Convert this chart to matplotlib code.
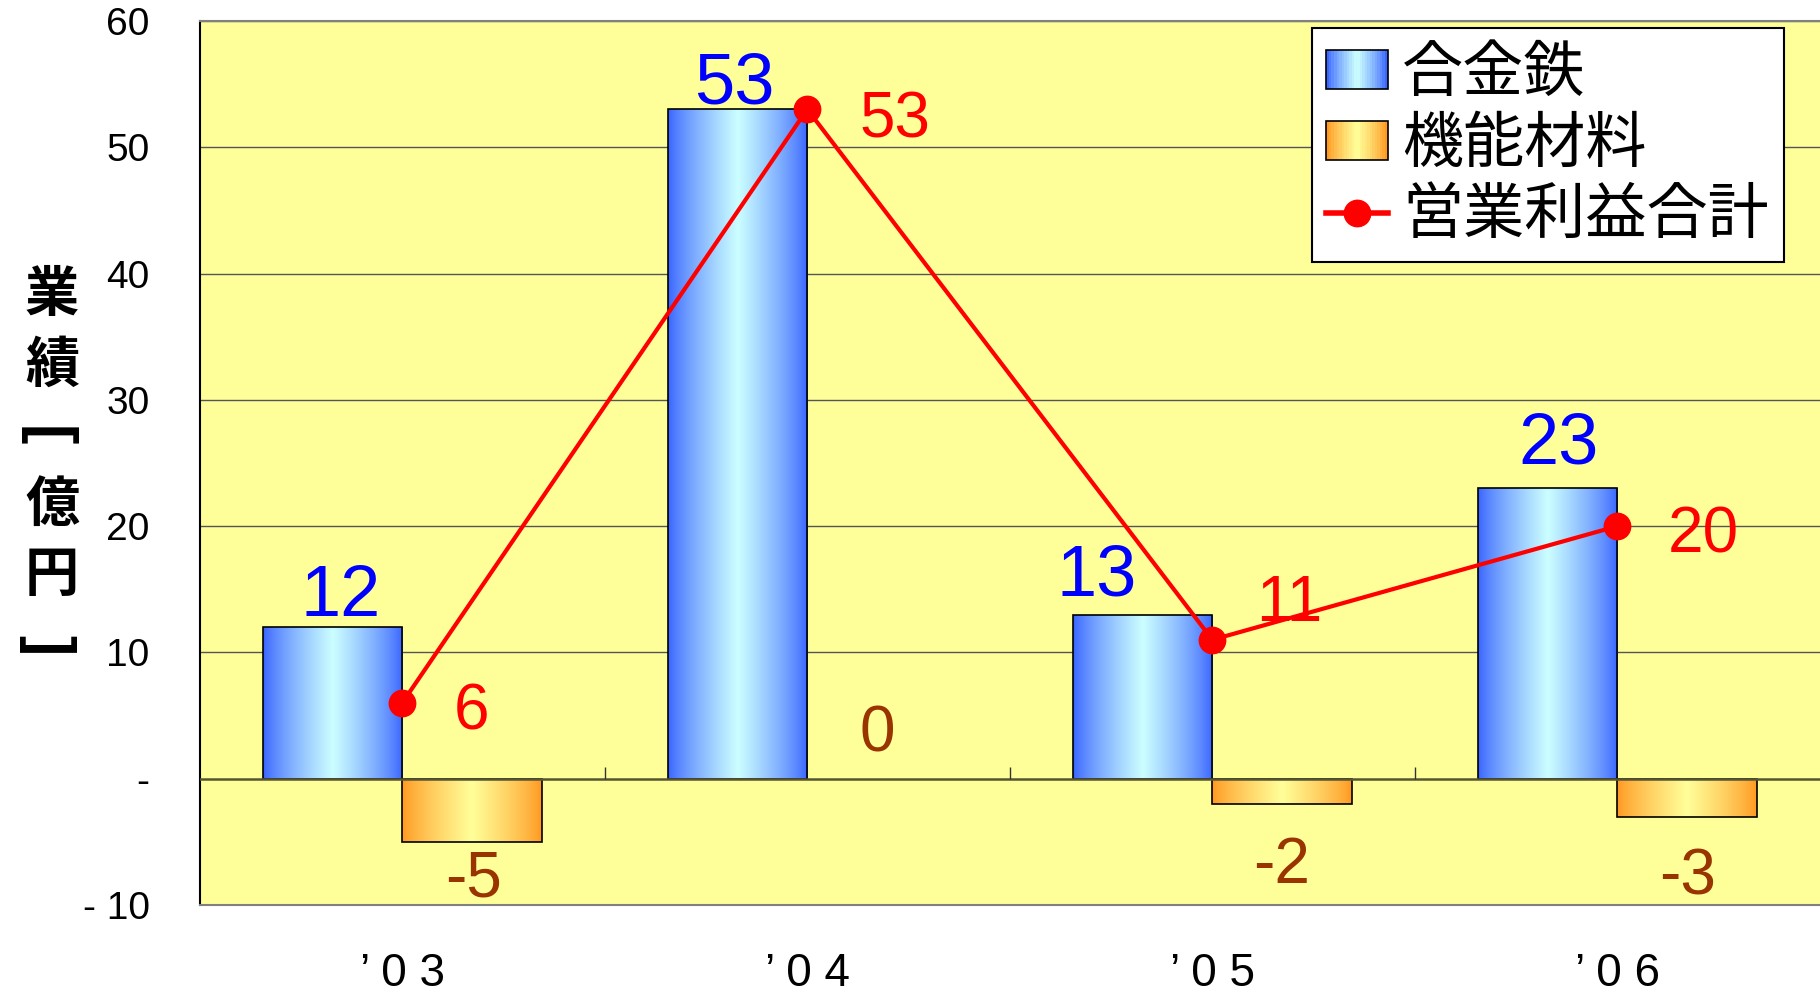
import numpy as np
import matplotlib
matplotlib.use("Agg")
import matplotlib.pyplot as plt
from matplotlib import font_manager as fm
from matplotlib.patches import Rectangle
from matplotlib.lines import Line2D
from matplotlib.legend_handler import HandlerBase

# データ
years = ["’ 0 3", "’ 0 4", "’ 0 5", "’ 0 6"]
alloy = [12, 53, 13, 23]          # 合金鉄
functional = [-5, 0, -2, -3]      # 機能材料
total = [6, 53, 11, 20]           # 営業利益合計
yticks = [-10, 0, 10, 20, 30, 40, 50, 60]
ytick_labels = ["- 10", "-", "10", "20", "30", "40", "50", "60"]
ylabel_chars = ["業", "績", "[", "億", "円", "]"]

# ラベルの微調整 (points)
alloy_off = [(6, 8), (-2, 4), (-33, 14), (8, 18)]
total_off = [(50, -7), (63, -8), (55, 26), (62, -7)]
func_off = [(1, -27), (0, 32), (0, -45), (0, -44)]

JP = ["Noto Sans CJK JP", "DejaVu Sans"]
names = {f.name for f in fm.fontManager.ttflist}
NUM = "Liberation Sans Narrow" if "Liberation Sans Narrow" in names else "Liberation Sans"

BLUE_EDGE, BLUE_MID = np.array([0.23, 0.40, 1.0]), np.array([0.8, 1.0, 1.0])
ORG_EDGE, ORG_MID = np.array([1.0, 0.6, 0.13]), np.array([1.0, 1.0, 0.6])


def grad(edge, mid, n=64):
    t = np.linspace(0, 1, n)
    w = (1 - np.abs(2 * t - 1)) ** 0.8
    return (edge[None, :] + (mid - edge)[None, :] * w[:, None])[None, :, :]


def gradient_bars(ax, x, h, width, edge, mid):
    img = grad(edge, mid)
    for xi, hi in zip(x, h):
        if hi == 0:
            continue
        y0, y1 = min(0, hi), max(0, hi)
        r = Rectangle((xi - width / 2, y0), width, y1 - y0, fc="none",
                      ec="black", lw=1.2, zorder=3)
        ax.add_patch(r)
        im = ax.imshow(img, extent=(xi - width / 2, xi + width / 2, y0, y1),
                       aspect="auto", zorder=2, interpolation="bilinear")
        im.set_clip_path(r)


class GradHandler(HandlerBase):
    def __init__(self, edge, mid):
        super().__init__()
        self.edge, self.mid = edge, mid

    def create_artists(self, legend, orig_handle, xdescent, ydescent,
                       width, height, fontsize, trans):
        cols = grad(self.edge, self.mid, 24)[0]
        n = len(cols)
        arts = []
        for k, c in enumerate(cols):
            arts.append(Rectangle((-xdescent + width * k / n, -ydescent),
                                  width / n + 0.3, height, fc=c, ec="none",
                                  transform=trans))
        arts.append(Rectangle((-xdescent, -ydescent), width, height,
                              fc="none", ec="black", lw=1.2, transform=trans))
        return arts


fig = plt.figure(figsize=(18.2, 10.05), dpi=100)
ax = fig.add_axes([0.1097, 0.0995, 0.8903, 0.8797])
ax.set_facecolor("#FFFF99")

x = np.arange(len(years))
w = 0.344
gradient_bars(ax, x - w / 2, alloy, w, BLUE_EDGE, BLUE_MID)
gradient_bars(ax, x + w / 2, functional, w, ORG_EDGE, ORG_MID)
ax.plot(x, total, color="red", lw=3.0, marker="o", ms=19, zorder=5)

ax.set_xlim(-0.5, len(years) - 0.5)
ax.set_ylim(-10, 60)

for v in yticks[2:]:
    ax.axhline(v, color="#555555", lw=1.0, zorder=1)
ax.axhline(0, color="#555533", lw=1.8, zorder=4)
ax.vlines(x[:-1] + 0.5, 0, 0.9, color="#333333", lw=1.0, zorder=4)

ax.set_yticks(yticks)
ax.set_yticklabels(ytick_labels, fontfamily="Liberation Sans", fontsize=28)
ax.tick_params(axis="y", length=0, pad=36)
ax.set_xticks(x)
ax.set_xticklabels(years, fontfamily="Liberation Sans", fontsize=33)
ax.tick_params(axis="x", length=0, pad=34)

for s in ["top", "bottom"]:
    ax.spines[s].set_color("#808080")
    ax.spines[s].set_linewidth(1.5)
ax.spines["left"].set_color("black")
ax.spines["left"].set_linewidth(1.5)
ax.spines["right"].set_visible(False)

for i in range(len(years)):
    ax.annotate(str(alloy[i]), (x[i] - w / 2, alloy[i]), xytext=alloy_off[i],
                textcoords="offset points", ha="center", va="baseline",
                color="#0000FF", fontsize=52, family=NUM, zorder=6)
    ax.annotate(str(total[i]), (x[i], total[i]), xytext=total_off[i],
                textcoords="offset points", ha="center", va="center",
                color="#FF0000", fontsize=46, family=NUM, zorder=6)
    ax.annotate(str(functional[i]), (x[i] + w / 2, functional[i]),
                xytext=func_off[i], textcoords="offset points", ha="center",
                va="center", color="#993300", fontsize=46, family=NUM, zorder=6)

# 縦書きの軸ラベル (括弧は回転して横向き)
for k, ch in enumerate(ylabel_chars):
    if ch in "[]":
        fig.text(0.0255, 0.7055 - 0.0695 * k, ch, family="Liberation Sans",
                 fontsize=44, fontweight="bold", ha="center", va="center",
                 rotation=-90)
    else:
        fig.text(0.0286, 0.7055 - 0.0695 * k, ch, family=JP, fontsize=39,
                 fontweight="bold", ha="center", va="center")

h_alloy = Rectangle((0, 0), 1, 1)
h_func = Rectangle((0, 0), 1, 1)
h_tot = Line2D([], [], color="red", lw=4, marker="o", ms=19)
leg = ax.legend([h_alloy, h_func, h_tot], ["合金鉄", "機能材料", "営業利益合計"],
                handler_map={h_alloy: GradHandler(BLUE_EDGE, BLUE_MID),
                             h_func: GradHandler(ORG_EDGE, ORG_MID)},
                loc="upper right", bbox_to_anchor=(0.980, 0.972),
                bbox_transform=fig.transFigure, prop={"family": JP, "size": 44},
                fancybox=False, framealpha=1, edgecolor="black",
                handlelength=1.0, handleheight=0.6, handletextpad=0.24,
                borderpad=0.24, labelspacing=0.14, borderaxespad=0)
leg.get_frame().set_linewidth(1.5)
leg.set_zorder(10)

fig.savefig("out.png", dpi=100)
